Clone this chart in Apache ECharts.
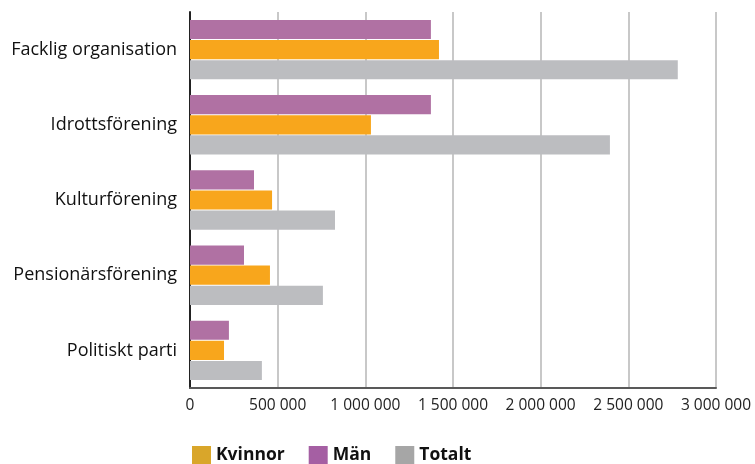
<!DOCTYPE html>
<html>
<head>
<meta charset="utf-8">
<script src="https://cdn.jsdelivr.net/npm/echarts@6/dist/echarts.min.js"></script>
<style>
  html, body { margin: 0; padding: 0; background: #fff; }
  #chart { width: 755px; height: 464px; }
</style>
</head>
<body>
<div id="chart"></div>
<script>
  // kategorier uppifrån och ner
  var categories = ['Facklig organisation', 'Idrottsförening', 'Kulturförening', 'Pensionärsförening', 'Politiskt parti']
  var man = [1374000, 1374000, 365000, 308000, 222000]
  var kvinnor = [1420000, 1032000, 468000, 456000, 194000]
  var totalt = [2782000, 2395000, 827000, 758000, 410000]
  var ticks = [0, 500000, 1000000, 1500000, 2000000, 2500000, 3000000]

  var font = 'Open Sans'

  function fmt (v) {
    return String(v).replace(/\B(?=(\d{3})+(?!\d))/g, ' ')
  }

  var myChart = echarts.init(document.getElementById('chart'))
  myChart.setOption({
    animation: false,
    textStyle: { fontFamily: font },
    grid: { left: 190, top: 12, right: 39, bottom: 76 },
    legend: {
      left: 187,
      top: 441,
      itemWidth: 19,
      itemHeight: 19,
      itemGap: 24,
      icon: 'rect',
      textStyle: { fontFamily: font, fontSize: 17.5, fontWeight: 'bold', color: '#111' },
      data: [
        { name: 'Kvinnor', itemStyle: { color: '#d9a62a' } },
        { name: 'Män', itemStyle: { color: '#a55fa3' } },
        { name: 'Totalt', itemStyle: { color: '#a6a6a6' } }
      ]
    },
    xAxis: {
      type: 'value',
      min: ticks[0],
      max: ticks[ticks.length - 1],
      interval: 500000,
      axisLine: { show: true, lineStyle: { color: '#595959', width: 2 } },
      axisTick: { show: false },
      splitLine: { lineStyle: { color: '#c8c8c8', width: 2 } },
      axisLabel: { formatter: fmt, color: '#222', fontSize: 15.5, margin: 10, fontFamily: font }
    },
    yAxis: {
      type: 'category',
      inverse: true,
      data: categories,
      axisLine: { show: true, lineStyle: { color: '#222', width: 2 } },
      axisTick: { show: false },
      axisLabel: { color: '#111', fontSize: 18, margin: 13, fontFamily: font }
    },
    series: [{
      name: 'Män',
      type: 'bar',
      data: man,
      barGap: '5%',
      barCategoryGap: '21%',
      itemStyle: { color: '#b071a3' }
    }, {
      name: 'Kvinnor',
      type: 'bar',
      data: kvinnor,
      itemStyle: { color: '#f8a61c' }
    }, {
      name: 'Totalt',
      type: 'bar',
      data: totalt,
      itemStyle: { color: '#bcbdc0' }
    }]
  })
</script>
</body>
</html>
